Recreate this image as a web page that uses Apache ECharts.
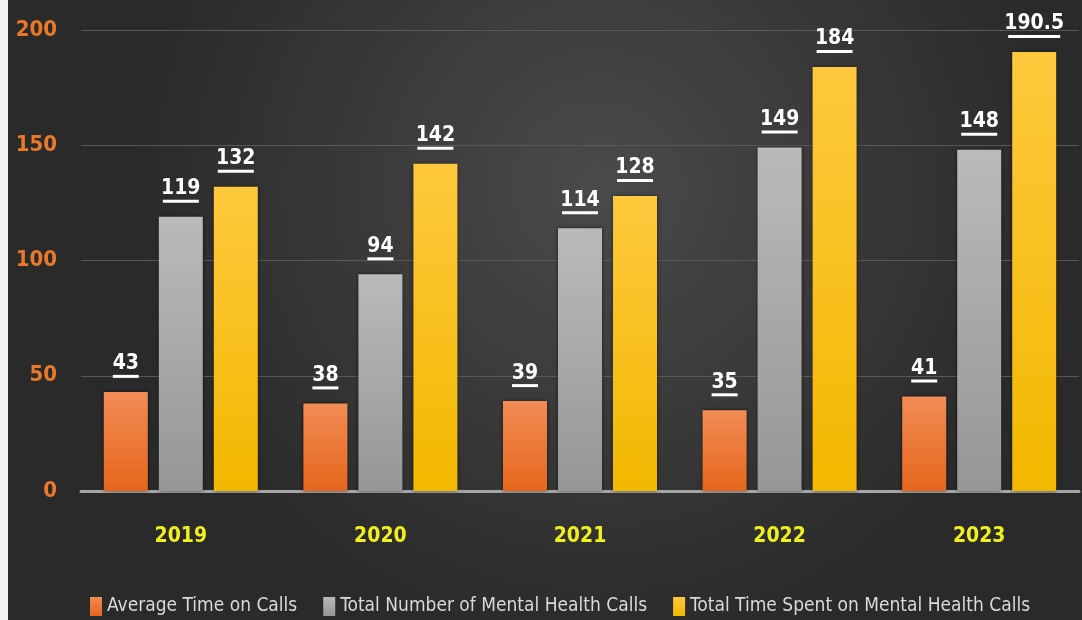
<!DOCTYPE html>
<html>
<head>
<meta charset="utf-8">
<script src="https://cdn.jsdelivr.net/npm/echarts@6/dist/echarts.min.js"></script>
<style>
  html, body { margin: 0; padding: 0; background: #f2f2f2; }
  #main { position: absolute; left: 8px; top: 0; width: 1074px; height: 620px; }
</style>
</head>
<body>
<div id="main"></div>
<script>
// data
var years = ['2019', '2020', '2021', '2022', '2023'];
var avgTime = [43, 38, 39, 35, 41];
var totalCalls = [119, 94, 114, 149, 148];
var totalTime = [132, 142, 128, 184, 190.5];
var names = ['Average Time on Calls', 'Total Number of Mental Health Calls', 'Total Time Spent on Mental Health Calls'];

var font = '"DejaVu Sans Condensed", "Liberation Sans Narrow", sans-serif';

function vgrad(top, bottom) {
	return new echarts.graphic.LinearGradient(0, 0, 0, 1, [
		{ offset: 0, color: top },
		{ offset: 1, color: bottom }
	]);
}

// underlined value label
var labelOpt = {
	show: true,
	position: 'top',
	distance: 14,
	formatter: function (p) {
		var s = String(p.value);
		return '{v|' + s + '}\n{u' + s.length + '|}';
	},
	rich: {
		v: { color: '#ffffff', fontSize: 21, fontWeight: 'bold', fontFamily: font, lineHeight: 22, align: 'center' },
		u2: { backgroundColor: '#ffffff', width: 26, height: 3, align: 'center' },
		u3: { backgroundColor: '#ffffff', width: 36, height: 3, align: 'center' },
		u5: { backgroundColor: '#ffffff', width: 52, height: 3, align: 'center' }
	}
};

function barSeries(name, data, top, bottom) {
	return {
		name: name,
		type: 'bar',
		data: data,
		barWidth: 44,
		barGap: '25%',
		itemStyle: {
			color: vgrad(top, bottom),
			shadowBlur: 4,
			shadowColor: 'rgba(0,0,0,0.55)'
		},
		label: labelOpt
	};
}

var chart = echarts.init(document.getElementById('main'));
var option = {
	animation: false,
	backgroundColor: new echarts.graphic.RadialGradient(0.55, 0.3, 0.75, [
		{ offset: 0, color: '#4a4a4a' },
		{ offset: 1, color: '#2a2a2a' }
	]),
	grid: {
		left: 73,
		right: 3,
		top: 30,
		bottom: 129
	},
	legend: {
		left: 77,
		top: 592,
		icon: 'rect',
		itemWidth: 12,
		itemHeight: 19,
		itemGap: 26,
		data: names,
		textStyle: { color: '#d9d9d9', fontSize: 19, fontFamily: font }
	},
	xAxis: {
		type: 'category',
		data: years,
		axisLine: { lineStyle: { color: '#a6a6a6', width: 3 } },
		axisTick: { show: false },
		axisLabel: { color: '#f0f020', fontSize: 21, fontWeight: 'bold', fontFamily: font, margin: 35 }
	},
	yAxis: {
		type: 'value',
		min: 0,
		max: 200,
		interval: 50,
		splitLine: { lineStyle: { color: '#585858', width: 1 } },
		axisLine: { show: false },
		axisTick: { show: false },
		axisLabel: { color: '#e9782a', fontSize: 22, fontWeight: 'bold', fontFamily: font, margin: 24 }
	},
	series: [
		barSeries(names[0], avgTime, '#f28c55', '#e5661c'),
		barSeries(names[1], totalCalls, '#bababa', '#969696'),
		barSeries(names[2], totalTime, '#ffc83d', '#f2b800')
	]
};
chart.setOption(option);
</script>
</body>
</html>
